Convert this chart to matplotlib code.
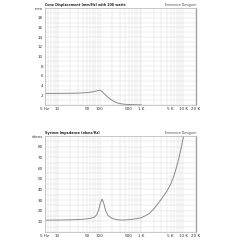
import numpy as np
import matplotlib
matplotlib.use("Agg")
from matplotlib import pyplot as plt
from matplotlib.ticker import FixedLocator, FixedFormatter, LogLocator, MultipleLocator

# cone displacement (mm) vs frequency (Hz)
cone_f = [5, 10, 20, 30, 50, 70, 85, 100, 115, 130, 150, 175, 200, 250, 300, 400, 500, 700, 1000]
cone_mm = [2.4, 2.4, 2.42, 2.45, 2.55, 2.72, 2.9, 3.05, 2.8, 2.3, 1.8, 1.3, 0.95, 0.5, 0.3, 0.15, 0.1, 0.05, 0.03]

# system impedance (ohms) vs frequency (Hz)
imp_f = [5, 10, 20, 40, 60, 75, 85, 95, 105, 115, 125, 140, 160, 200, 260, 350, 500, 700, 1000,
         1500, 2000, 3000, 4000, 5000, 6000, 7000, 8000, 9000, 10000, 11000]
imp_ohm = [11.2, 11.3, 11.5, 12.0, 12.8, 14.0, 16.0, 20.5, 27.0, 31.0, 27.5, 20.0, 15.5, 12.8, 11.6, 11.3, 11.6, 12.3, 13.5,
           17.0, 22.0, 31.0, 38.0, 45.0, 53.0, 62.0, 71.0, 80.0, 89.0, 98.0]

xticks = [5, 10, 50, 100, 500, 1000, 5000, 10000, 20000]
xlabels = ["5 Hz", "10", "50", "100", "500", "1 K", "5 K", "10 K", "20 K"]

top_ticks = [2, 4, 6, 8, 10, 12, 14, 16, 18, 20]
top_labels = ["2", "4", "6", "8", "10", "12", "14", "16", "18", "mm"]
bot_ticks = [10, 20, 30, 40, 50, 60, 70, 80, 90]
bot_labels = ["10", "20", "30", "40", "50", "60", "70", "80", "ohms"]

narrow = ["Liberation Sans Narrow", "DejaVu Sans"]
txt = "#333333"
fs = 3.0


def style(ax, yt, yl, ymax, yminor, title):
    ax.set_xscale("log")
    ax.set_xlim(5, 20000)
    ax.set_ylim(0, ymax)
    ax.xaxis.set_major_locator(FixedLocator(xticks))
    ax.xaxis.set_major_formatter(FixedFormatter(xlabels))
    ax.xaxis.set_minor_locator(LogLocator(base=10, subs=np.arange(1, 10)))
    ax.yaxis.set_major_locator(FixedLocator(yt))
    ax.yaxis.set_major_formatter(FixedFormatter(yl))
    ax.yaxis.set_minor_locator(MultipleLocator(yminor))
    ax.grid(which="both", color="#dddddd", lw=0.35)
    ax.set_axisbelow(True)
    ax.tick_params(which="both", length=0, labelsize=fs, labelcolor=txt, pad=1.5)
    for lab in ax.get_xticklabels() + ax.get_yticklabels():
        lab.set_family(narrow)
    for s in ax.spines.values():
        s.set_color("#c0c0c0")
        s.set_linewidth(0.6)
    ax.spines["right"].set_color("#a0a0a0")
    ax.spines["right"].set_linewidth(0.9)
    ax.text(0, 1.01, title, transform=ax.transAxes, ha="left", va="bottom",
            fontsize=2.3, fontweight="bold", color="#222222", family=narrow)
    ax.text(1, 1.01, "Eminence Designer", transform=ax.transAxes, ha="right", va="bottom",
            fontsize=2.3, style="italic", color="#444444", family=narrow)


fig = plt.figure(figsize=(2.4, 2.4), dpi=100)
ax1 = fig.add_axes([0.1875, 0.5625, 0.629, 0.404])
ax2 = fig.add_axes([0.1875, 0.033, 0.629, 0.40])

ax1.plot(cone_f, cone_mm, color="#8a8a8a", lw=0.7)
style(ax1, top_ticks, top_labels, 20, 1, "Cone Displacement (mm/Hz) with 200 watts")

ax2.plot(imp_f, imp_ohm, color="#8a8a8a", lw=0.7)
style(ax2, bot_ticks, bot_labels, 90, 5, "System Impedance (ohms/Hz)")

fig.savefig("out.png", dpi=100, facecolor="white")
